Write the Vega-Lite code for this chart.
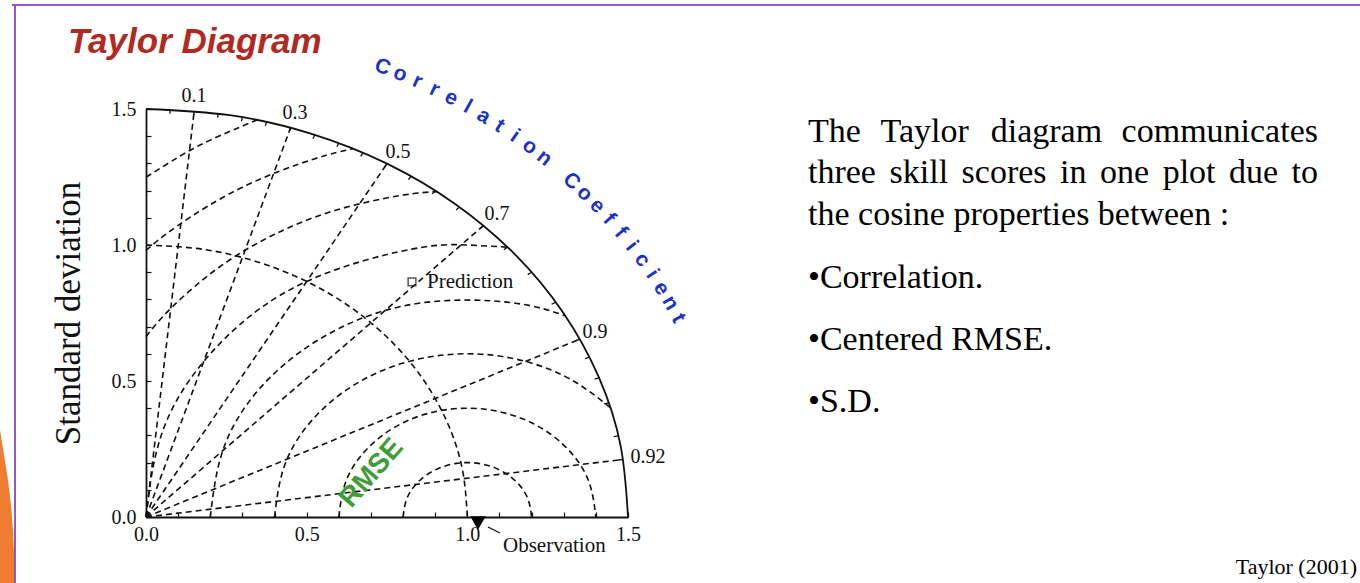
{
  "$schema": "https://vega.github.io/schema/vega-lite/v6.json",
  "width": 482,
  "height": 408,
  "autosize": {"type": "none"},
  "padding": {"left": 146, "top": 109, "right": 732, "bottom": 66},
  "background": "white",
  "config": {"view": {"stroke": null}},
  "datasets": {
    "orange": [
      {"x": -0.4544, "y": 0.3199},
      {"x": -0.4419, "y": 0.2279},
      {"x": -0.4295, "y": 0.136},
      {"x": -0.4201, "y": 0.0441},
      {"x": -0.4139, "y": -0.0478},
      {"x": -0.4092, "y": -0.1581},
      {"x": -0.4077, "y": -0.25}
    ],
    "border": [
      {"x": -0.417, "y": 1.8824, "x2": 3.784, "y2": 1.8824},
      {"x": -0.4077, "y": 1.8824, "x2": -0.4077, "y2": -0.25}
    ],
    "outer": [
      {"o": 0, "x": 0, "y": 1.5},
      {"o": 1, "x": 0.2605, "y": 1.4772},
      {"o": 2, "x": 0.513, "y": 1.4095},
      {"o": 3, "x": 0.75, "y": 1.299},
      {"o": 4, "x": 0.9642, "y": 1.1491},
      {"o": 5, "x": 1.1491, "y": 0.9642},
      {"o": 6, "x": 1.299, "y": 0.75},
      {"o": 7, "x": 1.4095, "y": 0.513},
      {"o": 8, "x": 1.4772, "y": 0.2605},
      {"o": 9, "x": 1.5, "y": 0}
    ],
    "arcs": [
      {"g": "sd1.0", "o": 0, "x": 0, "y": 1},
      {"g": "sd1.0", "o": 1, "x": 0.1736, "y": 0.9848},
      {"g": "sd1.0", "o": 2, "x": 0.342, "y": 0.9397},
      {"g": "sd1.0", "o": 3, "x": 0.5, "y": 0.866},
      {"g": "sd1.0", "o": 4, "x": 0.6428, "y": 0.766},
      {"g": "sd1.0", "o": 5, "x": 0.766, "y": 0.6428},
      {"g": "sd1.0", "o": 6, "x": 0.866, "y": 0.5},
      {"g": "sd1.0", "o": 7, "x": 0.9397, "y": 0.342},
      {"g": "sd1.0", "o": 8, "x": 0.9848, "y": 0.1736},
      {"g": "sd1.0", "o": 9, "x": 1, "y": 0},
      {"g": "rmse0.2", "o": 0, "x": 0.8, "y": 0},
      {"g": "rmse0.2", "o": 1, "x": 0.8121, "y": 0.0684},
      {"g": "rmse0.2", "o": 2, "x": 0.8468, "y": 0.1286},
      {"g": "rmse0.2", "o": 3, "x": 0.9, "y": 0.1732},
      {"g": "rmse0.2", "o": 4, "x": 0.9653, "y": 0.197},
      {"g": "rmse0.2", "o": 5, "x": 1.0347, "y": 0.197},
      {"g": "rmse0.2", "o": 6, "x": 1.1, "y": 0.1732},
      {"g": "rmse0.2", "o": 7, "x": 1.1532, "y": 0.1286},
      {"g": "rmse0.2", "o": 8, "x": 1.1879, "y": 0.0684},
      {"g": "rmse0.2", "o": 9, "x": 1.2, "y": 0},
      {"g": "rmse0.4", "o": 0, "x": 0.6, "y": 0},
      {"g": "rmse0.4", "o": 1, "x": 0.6241, "y": 0.1368},
      {"g": "rmse0.4", "o": 2, "x": 0.6936, "y": 0.2571},
      {"g": "rmse0.4", "o": 3, "x": 0.8, "y": 0.3464},
      {"g": "rmse0.4", "o": 4, "x": 0.9306, "y": 0.3939},
      {"g": "rmse0.4", "o": 5, "x": 1.0694, "y": 0.3939},
      {"g": "rmse0.4", "o": 6, "x": 1.2, "y": 0.3464},
      {"g": "rmse0.4", "o": 7, "x": 1.3064, "y": 0.2571},
      {"g": "rmse0.4", "o": 8, "x": 1.3759, "y": 0.1368},
      {"g": "rmse0.4", "o": 9, "x": 1.4, "y": 0},
      {"g": "rmse0.6", "o": 0, "x": 0.4, "y": 0},
      {"g": "rmse0.6", "o": 1, "x": 0.4362, "y": 0.2052},
      {"g": "rmse0.6", "o": 2, "x": 0.5404, "y": 0.3857},
      {"g": "rmse0.6", "o": 3, "x": 0.7, "y": 0.5196},
      {"g": "rmse0.6", "o": 4, "x": 0.8958, "y": 0.5909},
      {"g": "rmse0.6", "o": 5, "x": 1.1042, "y": 0.5909},
      {"g": "rmse0.6", "o": 6, "x": 1.3, "y": 0.5196},
      {"g": "rmse0.6", "o": 7, "x": 1.445, "y": 0.4022},
      {"g": "rmse0.8", "o": 0, "x": 0.2, "y": 0},
      {"g": "rmse0.8", "o": 1, "x": 0.2482, "y": 0.2736},
      {"g": "rmse0.8", "o": 2, "x": 0.3872, "y": 0.5142},
      {"g": "rmse0.8", "o": 3, "x": 0.6, "y": 0.6928},
      {"g": "rmse0.8", "o": 4, "x": 0.8611, "y": 0.7878},
      {"g": "rmse0.8", "o": 5, "x": 1.1389, "y": 0.7878},
      {"g": "rmse0.8", "o": 6, "x": 1.305, "y": 0.7396},
      {"g": "rmse1.0", "o": 0, "x": 0, "y": 0},
      {"g": "rmse1.0", "o": 1, "x": 0.0603, "y": 0.342},
      {"g": "rmse1.0", "o": 2, "x": 0.234, "y": 0.6428},
      {"g": "rmse1.0", "o": 3, "x": 0.5, "y": 0.866},
      {"g": "rmse1.0", "o": 4, "x": 0.8264, "y": 0.9848},
      {"g": "rmse1.0", "o": 5, "x": 1, "y": 1},
      {"g": "rmse1.0", "o": 6, "x": 1.125, "y": 0.9922},
      {"g": "rmse1.2", "o": 0, "x": 0, "y": 0.6633},
      {"g": "rmse1.2", "o": 1, "x": 0.0808, "y": 0.7713},
      {"g": "rmse1.2", "o": 2, "x": 0.2287, "y": 0.9192},
      {"g": "rmse1.2", "o": 3, "x": 0.4, "y": 1.0392},
      {"g": "rmse1.2", "o": 4, "x": 0.5896, "y": 1.1276},
      {"g": "rmse1.2", "o": 5, "x": 0.7916, "y": 1.1818},
      {"g": "rmse1.2", "o": 6, "x": 0.905, "y": 1.1963},
      {"g": "rmse1.4", "o": 0, "x": 0, "y": 0.9798},
      {"g": "rmse1.4", "o": 1, "x": 0.1001, "y": 1.0724},
      {"g": "rmse1.4", "o": 2, "x": 0.3, "y": 1.2124},
      {"g": "rmse1.4", "o": 3, "x": 0.5212, "y": 1.3156},
      {"g": "rmse1.4", "o": 4, "x": 0.645, "y": 1.3542},
      {"g": "rmse1.6", "o": 0, "x": 0, "y": 1.249},
      {"g": "rmse1.6", "o": 1, "x": 0.1053, "y": 1.3264},
      {"g": "rmse1.6", "o": 2, "x": 0.2, "y": 1.3856},
      {"g": "rmse1.6", "o": 3, "x": 0.345, "y": 1.4598}
    ],
    "radial": [
      {"c": "0.1", "x": 0, "y": 0, "x2": 0.15, "y2": 1.4925},
      {"c": "0.3", "x": 0, "y": 0, "x2": 0.45, "y2": 1.4309},
      {"c": "0.5", "x": 0, "y": 0, "x2": 0.75, "y2": 1.299},
      {"c": "0.7", "x": 0, "y": 0, "x2": 1.05, "y2": 1.0712},
      {"c": "0.9", "x": 0, "y": 0, "x2": 1.35, "y2": 0.6538},
      {"c": "0.99", "x": 0, "y": 0, "x2": 1.485, "y2": 0.2117}
    ],
    "ticks": [
      {"x": 0.075, "y": 1.4981, "x2": 0.0743, "y2": 1.4831},
      {"x": 0.15, "y": 1.4925, "x2": 0.1485, "y2": 1.4776},
      {"x": 0.225, "y": 1.483, "x2": 0.2228, "y2": 1.4682},
      {"x": 0.3, "y": 1.4697, "x2": 0.297, "y2": 1.455},
      {"x": 0.375, "y": 1.4524, "x2": 0.3713, "y2": 1.4379},
      {"x": 0.45, "y": 1.4309, "x2": 0.4455, "y2": 1.4166},
      {"x": 0.525, "y": 1.4051, "x2": 0.5198, "y2": 1.391},
      {"x": 0.6, "y": 1.3748, "x2": 0.594, "y2": 1.3611},
      {"x": 0.675, "y": 1.3395, "x2": 0.6683, "y2": 1.3261},
      {"x": 0.75, "y": 1.299, "x2": 0.7425, "y2": 1.286},
      {"x": 0.825, "y": 1.2528, "x2": 0.8168, "y2": 1.2403},
      {"x": 0.9, "y": 1.2, "x2": 0.891, "y2": 1.188},
      {"x": 0.975, "y": 1.1399, "x2": 0.9653, "y2": 1.1285},
      {"x": 1.05, "y": 1.0712, "x2": 1.0395, "y2": 1.0605},
      {"x": 1.125, "y": 0.9922, "x2": 1.1138, "y2": 0.9823},
      {"x": 1.2, "y": 0.9, "x2": 1.188, "y2": 0.891},
      {"x": 1.275, "y": 0.7902, "x2": 1.2623, "y2": 0.7823},
      {"x": 1.35, "y": 0.6538, "x2": 1.3365, "y2": 0.6473},
      {"x": 1.38, "y": 0.5879, "x2": 1.3662, "y2": 0.582},
      {"x": 1.41, "y": 0.5118, "x2": 1.3959, "y2": 0.5067},
      {"x": 1.44, "y": 0.42, "x2": 1.4256, "y2": 0.4158},
      {"x": 1.47, "y": 0.2985, "x2": 1.4553, "y2": 0.2955},
      {"x": 1.485, "y": 0.2117, "x2": 1.4702, "y2": 0.2096},
      {"x": 1.064, "y": -0.0368, "x2": 1.1017, "y2": -0.0588}
    ],
    "prediction": [{"name": "Prediction", "x": 0.8278, "y": 0.864}],
    "observation": [{"name": "Observation", "x": 1.0332, "y": -0.0221}],
    "corrlabels": [
      {"t": "0.1", "x": 0.1494, "y": 1.5478},
      {"t": "0.3", "x": 0.4637, "y": 1.4853},
      {"t": "0.5", "x": 0.7842, "y": 1.3419},
      {"t": "0.7", "x": 1.0923, "y": 1.114},
      {"t": "0.9", "x": 1.3973, "y": 0.6801},
      {"t": "0.92", "x": 1.5623, "y": 0.2206}
    ],
    "pointlabels": [
      {"t": "Prediction", "x": 0.8745, "y": 0.864},
      {"t": "Observation", "x": 1.111, "y": -0.1066}
    ],
    "rmse": [{"t": "RMSE", "x": 0.7024, "y": 0.1607}],
    "corrtitle": [
      {"ch": "C", "x": 0.736, "y": 1.653, "a": 20.7},
      {"ch": "o", "x": 0.791, "y": 1.628, "a": 22.4},
      {"ch": "r", "x": 0.845, "y": 1.601, "a": 24.1},
      {"ch": "r", "x": 0.898, "y": 1.571, "a": 25.8},
      {"ch": "e", "x": 0.95, "y": 1.54, "a": 27.6},
      {"ch": "l", "x": 1.001, "y": 1.508, "a": 29.3},
      {"ch": "a", "x": 1.051, "y": 1.473, "a": 31.1},
      {"ch": "t", "x": 1.1, "y": 1.437, "a": 32.9},
      {"ch": "i", "x": 1.148, "y": 1.4, "a": 34.8},
      {"ch": "o", "x": 1.194, "y": 1.361, "a": 36.6},
      {"ch": "n", "x": 1.239, "y": 1.32, "a": 38.5},
      {"ch": "C", "x": 1.324, "y": 1.234, "a": 42.3},
      {"ch": "o", "x": 1.365, "y": 1.189, "a": 44.2},
      {"ch": "e", "x": 1.404, "y": 1.143, "a": 46.1},
      {"ch": "f", "x": 1.441, "y": 1.095, "a": 48.1},
      {"ch": "f", "x": 1.477, "y": 1.046, "a": 50.1},
      {"ch": "i", "x": 1.511, "y": 0.996, "a": 52.1},
      {"ch": "c", "x": 1.544, "y": 0.945, "a": 54.1},
      {"ch": "i", "x": 1.575, "y": 0.893, "a": 56.2},
      {"ch": "e", "x": 1.603, "y": 0.84, "a": 58.3},
      {"ch": "n", "x": 1.631, "y": 0.786, "a": 60.4},
      {"ch": "t", "x": 1.656, "y": 0.73, "a": 62.5}
    ],
    "slidetitle": [{"t": "Taylor Diagram", "x": -0.2427, "y": 1.7059}],
    "slidetext": [
      {"t": "The", "x": 2.0602, "y": 1.3787},
      {"t": "Taylor", "x": 2.2858, "y": 1.3787},
      {"t": "diagram", "x": 2.6288, "y": 1.3787},
      {"t": "communicates", "x": 3.0361, "y": 1.3787},
      {"t": "three", "x": 2.0602, "y": 1.2279},
      {"t": "skill", "x": 2.3138, "y": 1.2279},
      {"t": "scores", "x": 2.5382, "y": 1.2279},
      {"t": "in", "x": 2.8444, "y": 1.2279},
      {"t": "one", "x": 2.9689, "y": 1.2279},
      {"t": "plot", "x": 3.1638, "y": 1.2279},
      {"t": "due", "x": 3.3704, "y": 1.2279},
      {"t": "to", "x": 3.5652, "y": 1.2279},
      {"t": "the cosine properties between :", "x": 2.0602, "y": 1.0735},
      {"t": "•Correlation.", "x": 2.0602, "y": 0.8419},
      {"t": "•Centered RMSE.", "x": 2.0602, "y": 0.614},
      {"t": "•S.D.", "x": 2.0602, "y": 0.386}
    ],
    "source": [{"t": "Taylor (2001)", "x": 3.7687, "y": -0.2096}]
  },
  "encoding": {
    "x": {
      "field": "x", "type": "quantitative",
      "scale": {"domain": [0, 1.5], "nice": false, "zero": false},
      "axis": {
        "values": [0, 0.1, 0.2, 0.3, 0.4, 0.5, 0.6, 0.7, 0.8, 0.9, 1, 1.1, 1.2, 1.3, 1.4, 1.5],
        "format": ".1f",
        "labelExpr": "indexof(['0.0','0.5','1.0','1.5'], datum.label) >= 0 ? datum.label : ''",
        "grid": false, "title": null,
        "domainColor": "#111111", "domainWidth": 1.8,
        "tickColor": "#111111", "tickWidth": 1.2, "tickSize": -5,
        "labelPadding": 12, "labelFlush": false, "labelOverlap": false,
        "labelFont": "Liberation Serif", "labelFontSize": 20, "labelColor": "#111111"
      }
    },
    "y": {
      "field": "y", "type": "quantitative",
      "scale": {"domain": [0, 1.5], "nice": false, "zero": false},
      "axis": {
        "values": [0, 0.1, 0.2, 0.3, 0.4, 0.5, 0.6, 0.7, 0.8, 0.9, 1, 1.1, 1.2, 1.3, 1.4, 1.5],
        "format": ".1f",
        "labelExpr": "indexof(['0.0','0.5','1.0','1.5'], datum.label) >= 0 ? datum.label : ''",
        "grid": false,
        "domainColor": "#111111", "domainWidth": 1.8,
        "tickColor": "#111111", "tickWidth": 1.2, "tickSize": -5,
        "labelPadding": 15, "labelFlush": false, "labelOverlap": false,
        "labelFont": "Liberation Serif", "labelFontSize": 20, "labelColor": "#111111",
        "title": "Standard deviation",
        "titleFont": "Liberation Serif", "titleFontSize": 35, "titleFontWeight": "normal", "titleColor": "#111111",
        "titleX": -78, "titleY": 204, "titleAngle": -90, "titleAlign": "center", "titleBaseline": "middle"
      }
    }
  },
  "layer": [
    {
      "data": {"name": "orange"},
      "mark": {"type": "area", "orient": "horizontal", "color": "#ee7d31", "interpolate": "linear"},
      "encoding": {"x2": {"datum": -0.46}}
    },
    {
      "data": {"name": "border"},
      "mark": {"type": "rule", "color": "#8d5ac8", "strokeWidth": 2},
      "encoding": {"x2": {"field": "x2"}, "y2": {"field": "y2"}}
    },
    {
      "data": {"name": "arcs"},
      "mark": {"type": "line", "color": "#111111", "strokeWidth": 1.6, "strokeDash": [6, 4], "interpolate": "natural"},
      "encoding": {"detail": {"field": "g"}, "order": {"field": "o"}}
    },
    {
      "data": {"name": "radial"},
      "mark": {"type": "rule", "color": "#111111", "strokeWidth": 1.6, "strokeDash": [6, 4]},
      "encoding": {"x2": {"field": "x2"}, "y2": {"field": "y2"}}
    },
    {
      "data": {"name": "outer"},
      "mark": {"type": "line", "color": "#111111", "strokeWidth": 1.8, "interpolate": "natural"},
      "encoding": {"order": {"field": "o"}}
    },
    {
      "data": {"name": "ticks"},
      "mark": {"type": "rule", "color": "#111111", "strokeWidth": 1.3},
      "encoding": {"x2": {"field": "x2"}, "y2": {"field": "y2"}}
    },
    {
      "data": {"name": "prediction"},
      "mark": {"type": "point", "shape": "square", "filled": false, "color": "#111111", "size": 60, "strokeWidth": 1.5}
    },
    {
      "data": {"name": "observation"},
      "mark": {"type": "point", "shape": "triangle-down", "filled": true, "color": "#000000", "size": 240, "opacity": 1}
    },
    {
      "data": {"name": "corrlabels"},
      "mark": {"type": "text", "font": "Liberation Serif", "fontSize": 20, "color": "#111111", "align": "center", "baseline": "middle"},
      "encoding": {"text": {"field": "t"}}
    },
    {
      "data": {"name": "pointlabels"},
      "mark": {"type": "text", "font": "Liberation Serif", "fontSize": 21, "color": "#111111", "align": "left", "baseline": "middle"},
      "encoding": {"text": {"field": "t"}}
    },
    {
      "data": {"name": "rmse"},
      "mark": {"type": "text", "font": "Liberation Sans", "fontWeight": "bold", "fontSize": 28, "color": "#3f9d38", "align": "center", "baseline": "middle", "angle": -49},
      "encoding": {"text": {"field": "t"}}
    },
    {
      "data": {"name": "corrtitle"},
      "mark": {"type": "text", "font": "Liberation Sans", "fontWeight": "bold", "fontSize": 21, "color": "#1b32c9", "align": "center", "baseline": "middle"},
      "encoding": {
        "text": {"field": "ch"},
        "angle": {"field": "a", "type": "quantitative", "scale": null}
      }
    },
    {
      "data": {"name": "slidetitle"},
      "mark": {"type": "text", "font": "Liberation Sans", "fontWeight": "bold", "fontStyle": "italic", "fontSize": 35, "color": "#b22a1f", "align": "left", "baseline": "alphabetic"},
      "encoding": {"text": {"field": "t"}}
    },
    {
      "data": {"name": "slidetext"},
      "mark": {"type": "text", "font": "Liberation Serif", "fontSize": 34, "color": "#000000", "align": "left", "baseline": "alphabetic"},
      "encoding": {"text": {"field": "t"}}
    },
    {
      "data": {"name": "source"},
      "mark": {"type": "text", "font": "Liberation Serif", "fontSize": 22, "color": "#000000", "align": "right", "baseline": "alphabetic"},
      "encoding": {"text": {"field": "t"}}
    }
  ]
}
